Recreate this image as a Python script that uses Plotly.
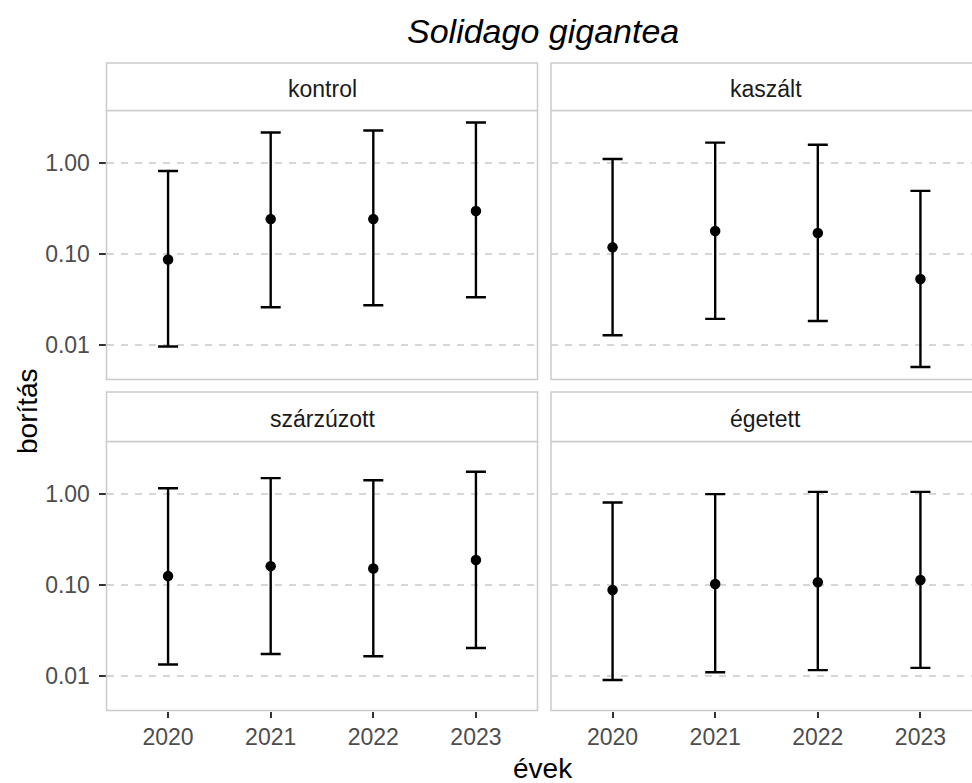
import plotly.graph_objects as go

# ---- data -------------------------------------------------------------
years = ["2020", "2021", "2022", "2023"]
treatments = ["kontrol", "kaszált", "szárzúzott", "égetett"]

kontrol_mean = [0.0875, 0.243, 0.243, 0.299]
kontrol_lo = [0.0097, 0.0262, 0.0275, 0.0337]
kontrol_hi = [0.82, 2.17, 2.28, 2.79]

kaszalt_mean = [0.119, 0.180, 0.171, 0.0535]
kaszalt_lo = [0.0129, 0.0195, 0.0185, 0.00578]
kaszalt_hi = [1.11, 1.68, 1.59, 0.496]

szarzuzott_mean = [0.126, 0.162, 0.153, 0.189]
szarzuzott_lo = [0.0135, 0.0176, 0.0166, 0.0205]
szarzuzott_hi = [1.16, 1.50, 1.42, 1.76]

egetett_mean = [0.0886, 0.103, 0.108, 0.114]
egetett_lo = [0.0091, 0.0111, 0.0117, 0.0124]
egetett_hi = [0.81, 1.00, 1.06, 1.06]

y_ticks = [0.01, 0.1, 1.0]
y_ticktext = ["0.01", "0.10", "1.00"]

series = [
    (kontrol_mean, kontrol_lo, kontrol_hi),
    (kaszalt_mean, kaszalt_lo, kaszalt_hi),
    (szarzuzott_mean, szarzuzott_lo, szarzuzott_hi),
    (egetett_mean, egetett_lo, egetett_hi),
]

# ---- geometry (pixels) ------------------------------------------------
W, H = 972, 783
FONT = "Liberation Sans, Arial, sans-serif"
BORDER = "#cccccc"
GRID = "#d6d6d6"
TXT = "#4d4d4d"


def px(x):
    return x / W


def py(y):
    return 1 - y / H


col_px = [(106.5, 537.5), (551.0, 980.0)]
row_px = [(110.5, 379.5), (441.5, 710.5)]
strip_px = [(63.0, 110.5), (392.0, 441.5)]
unit = (col_px[0][1] - col_px[0][0]) / 4.2  # px per category step

y_range = [-2.375, 0.578]

fig = go.Figure()
shapes = []
annotations = []

for i, (name, (m, lo, hi)) in enumerate(zip(treatments, series)):
    r, c = divmod(i, 2)
    idx = i + 1
    xa = "x" if idx == 1 else f"x{idx}"
    ya = "y" if idx == 1 else f"y{idx}"

    fig.add_trace(go.Scatter(
        x=years, y=m, mode="markers",
        marker=dict(color="black", size=10.5),
        error_y=dict(
            type="data", symmetric=False,
            array=[h - v for h, v in zip(hi, m)],
            arrayminus=[v - l for v, l in zip(m, lo)],
            color="black", thickness=2.4, width=10,
        ),
        xaxis=xa, yaxis=ya, showlegend=False,
    ))

    x0, x1 = col_px[c]
    y0, y1 = row_px[r]
    dom_x = [px(x0), min(1.0, px(x1))]
    vis_w = min(x1, W) - x0
    x_range = [-0.6, -0.6 + vis_w / unit]

    xkey = "xaxis" if idx == 1 else f"xaxis{idx}"
    ykey = "yaxis" if idx == 1 else f"yaxis{idx}"
    fig.update_layout(**{
        xkey: dict(
            domain=dom_x, anchor=ya, type="category",
            categoryorder="array", categoryarray=years,
            range=x_range, showgrid=False, zeroline=False,
            showticklabels=(r == 1),
            ticks="outside" if r == 1 else "",
            ticklen=6, tickwidth=1.5, tickcolor="#333333",
            tickfont=dict(family=FONT, size=23, color=TXT),
            showline=False,
        ),
        ykey: dict(
            domain=[py(y1), py(y0)], anchor=xa, type="log",
            range=y_range, tickvals=y_ticks, ticktext=y_ticktext,
            showgrid=True, gridcolor=GRID, gridwidth=1.5,
            griddash="7px,7px",
            zeroline=False, showline=False,
            showticklabels=(c == 0),
            ticks="outside" if c == 0 else "",
            ticklen=7, tickwidth=1.5, tickcolor="#333333",
            tickfont=dict(family=FONT, size=23, color=TXT),
            ticklabelstandoff=4,
        ),
    })

    # panel border
    shapes.append(dict(type="rect", xref="paper", yref="paper",
                       x0=px(x0), x1=px(x1), y0=py(y1), y1=py(y0),
                       line=dict(color=BORDER, width=1.5),
                       fillcolor="rgba(0,0,0,0)", layer="above"))
    # strip
    s0, s1 = strip_px[r]
    shapes.append(dict(type="rect", xref="paper", yref="paper",
                       x0=px(x0), x1=px(x1), y0=py(s1), y1=py(s0),
                       line=dict(color=BORDER, width=1.5),
                       fillcolor="white", layer="above"))
    annotations.append(dict(
        text=name, xref="paper", yref="paper",
        x=px((x0 + x1) / 2), y=py((s0 + s1) / 2 + 2),
        xanchor="center", yanchor="middle", showarrow=False,
        font=dict(family=FONT, size=23, color="#1a1a1a"),
    ))

# title and axis titles
annotations.append(dict(
    text="<i>Solidago gigantea</i>", xref="paper", yref="paper",
    x=px(543), y=py(31), xanchor="center", yanchor="middle",
    showarrow=False, font=dict(family=FONT, size=34, color="black"),
))
annotations.append(dict(
    text="évek", xref="paper", yref="paper",
    x=px(543), y=py(768), xanchor="center", yanchor="middle",
    showarrow=False, font=dict(family=FONT, size=28, color="black"),
))
annotations.append(dict(
    text="borítás", xref="paper", yref="paper",
    x=px(27), y=py(411), xanchor="center", yanchor="middle",
    textangle=-90, showarrow=False,
    font=dict(family=FONT, size=28, color="black"),
))

fig.update_layout(
    width=W, height=H,
    margin=dict(l=0, r=0, t=0, b=0),
    paper_bgcolor="white", plot_bgcolor="white",
    shapes=shapes, annotations=annotations,
    showlegend=False,
)

fig.write_html("out.html")
